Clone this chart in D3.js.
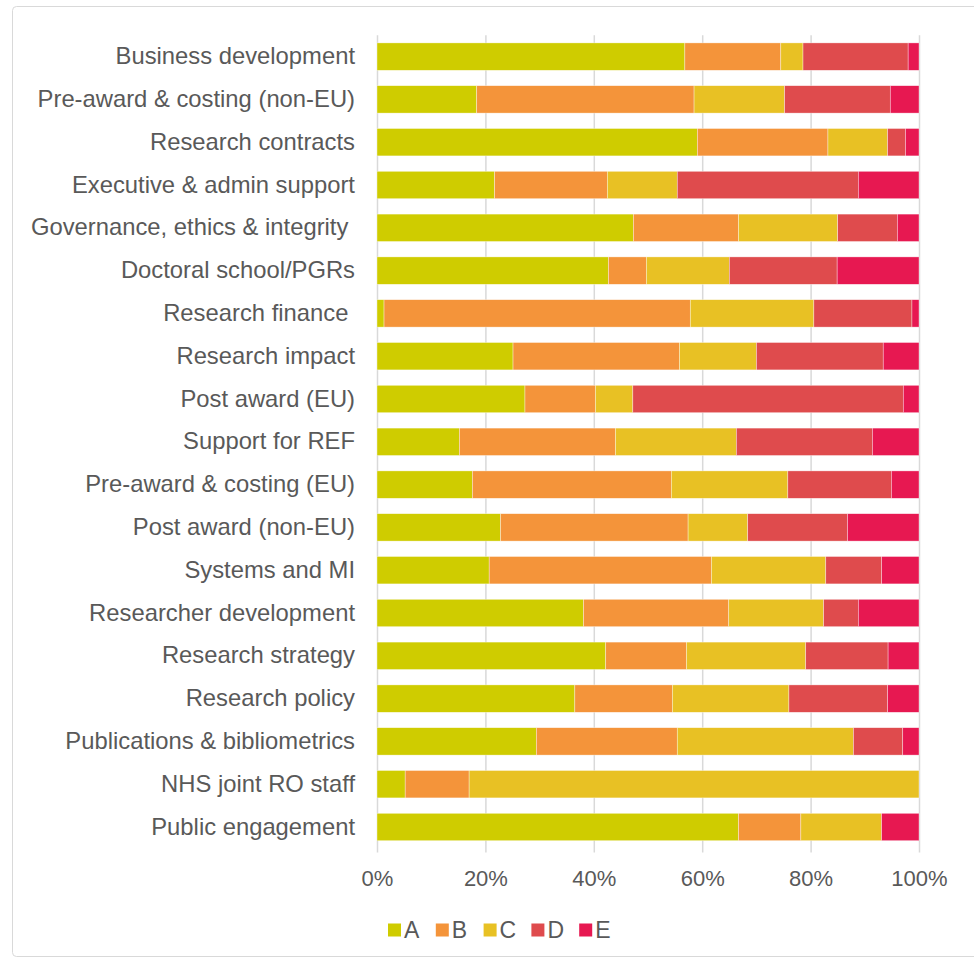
<!DOCTYPE html>
<html>
<head>
<meta charset="utf-8">
<script src="https://cdn.jsdelivr.net/npm/d3@7"></script>
<style>
  html, body { margin: 0; padding: 0; background: #fff; }
  svg text { font-family: "Liberation Sans", Arial, sans-serif; fill: #595959; white-space: pre; }
</style>
</head>
<body>
<svg id="chart" width="974" height="960"></svg>
<script>
// Survey categories, top to bottom
const categories = [
  "Business development",
  "Pre-award & costing (non-EU)",
  "Research contracts",
  "Executive & admin support",
  "Governance, ethics & integrity ",
  "Doctoral school/PGRs",
  "Research finance ",
  "Research impact",
  "Post award (EU)",
  "Support for REF",
  "Pre-award & costing (EU)",
  "Post award (non-EU)",
  "Systems and MI",
  "Researcher development",
  "Research strategy",
  "Research policy",
  "Publications & bibliometrics",
  "NHS joint RO staff",
  "Public engagement"
];

// Response shares (%) per category, one array per response option
const seriesNames = ["A", "B", "C", "D", "E"];
const valuesA = [56.8, 18.4, 59.1, 21.7, 47.3, 42.7, 1.3, 25.1, 27.3, 15.2, 17.6, 22.8, 20.7, 38.1, 42.2, 36.5, 29.4, 5.2, 66.7];
const valuesB = [17.7, 40.1, 24.1, 20.8, 19.4, 7.0, 56.5, 30.7, 13.0, 28.8, 36.7, 34.6, 41.0, 26.8, 14.9, 18.0, 26.0, 11.8, 11.5];
const valuesC = [4.1, 16.7, 11.0, 12.9, 18.3, 15.3, 22.8, 14.2, 6.9, 22.3, 21.5, 11.0, 21.1, 17.5, 22.0, 21.5, 32.5, 83.0, 14.9];
const valuesD = [19.4, 19.5, 3.3, 33.4, 11.0, 19.9, 18.1, 23.4, 49.9, 25.1, 19.1, 18.4, 10.3, 6.4, 15.2, 18.2, 9.1, 0, 0];
const valuesE = [2.0, 5.3, 2.5, 11.2, 4.0, 15.1, 1.3, 6.6, 2.9, 8.6, 5.1, 13.2, 6.9, 11.2, 5.7, 5.8, 3.0, 0, 6.9];

const tickValues = [0, 0.2, 0.4, 0.6, 0.8, 1.0];
const colors = ["#cfcc00", "#f4943a", "#e8c124", "#df4b4d", "#e71851"];

const seriesValues = [valuesA, valuesB, valuesC, valuesD, valuesE];
const rows = categories.map((c, i) => {
  const row = { category: c };
  seriesNames.forEach((s, j) => { row[s] = seriesValues[j][i]; });
  return row;
});

// Normalise each row to 100% stacked proportions
const stack = d3.stack().keys(seriesNames).offset(d3.stackOffsetExpand);
const stacked = stack(rows);

const svg = d3.select("#chart");

// Chart frame
svg.append("rect")
  .attr("x", 12.5).attr("y", 6.5)
  .attr("width", 990).attr("height", 950)
  .attr("rx", 4)
  .attr("fill", "none")
  .attr("stroke", "#d9d9d9")
  .attr("stroke-width", 1);

const margin = { left: 377, right: 919, top: 35.2, bottom: 848.4 };

const x = d3.scaleLinear().domain([0, 1]).range([margin.left, margin.right]);
const y = d3.scaleBand().domain(categories).range([margin.top, margin.bottom]).paddingInner(0.36).paddingOuter(0.18);

// Vertical gridlines with ticks below the plot
const xAxis = d3.axisBottom(x)
  .tickValues(tickValues)
  .tickFormat(d3.format(".0%"))
  .tickSize(margin.bottom - margin.top + 4)
  .tickPadding(18);

const gx = svg.append("g")
  .attr("transform", `translate(0,${margin.top})`)
  .call(xAxis);
gx.select(".domain").remove();
gx.selectAll(".tick line").attr("stroke", "#d9d9d9").attr("stroke-width", 1.5);
gx.selectAll(".tick text").attr("font-size", 22).attr("fill", "#595959");

// Stacked bars
svg.append("g")
  .selectAll("g")
  .data(stacked)
  .join("g")
  .attr("fill", (d, i) => colors[i])
  .selectAll("rect")
  .data(d => d.filter(p => p[1] - p[0] > 0))
  .join("rect")
  .attr("x", d => x(d[0]))
  .attr("width", d => x(d[1]) - x(d[0]))
  .attr("y", d => y(d.data.category))
  .attr("height", y.bandwidth())
  .attr("stroke", "#ffffff")
  .attr("stroke-opacity", 0.6)
  .attr("stroke-width", 0.6);

// Category labels
const yAxis = d3.axisLeft(y).tickSize(0).tickPadding(22);
const gy = svg.append("g")
  .attr("transform", `translate(${margin.left},0)`)
  .call(yAxis);
gy.select(".domain").remove();
gy.selectAll(".tick text").attr("font-size", 23.8).attr("fill", "#595959");

// Legend
const legend = svg.append("g").attr("transform", "translate(388,930)");
const item = legend.selectAll("g")
  .data(seriesNames)
  .join("g")
  .attr("transform", (d, i) => `translate(${i * 47.8},0)`);
item.append("rect")
  .attr("x", 0).attr("y", -6.5)
  .attr("width", 13).attr("height", 13)
  .attr("fill", (d, i) => colors[i]);
item.append("text")
  .attr("x", 16).attr("y", 0)
  .attr("dy", "0.35em")
  .attr("font-size", 23)
  .text(d => d);
</script>
</body>
</html>
